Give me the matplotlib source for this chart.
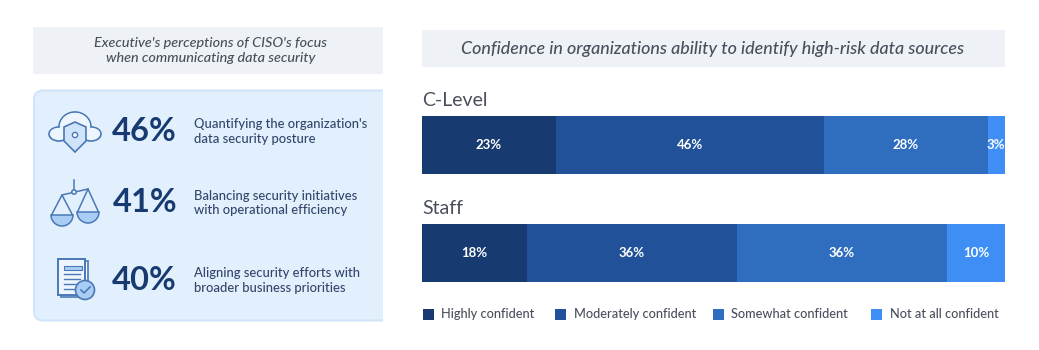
import matplotlib
matplotlib.use("Agg")
import matplotlib.pyplot as plt
from matplotlib.patches import Rectangle, FancyBboxPatch, Circle, Polygon, Wedge, Ellipse

groups = ["C-Level", "Staff"]
levels = ["Highly confident", "Moderately confident", "Somewhat confident", "Not at all confident"]
c_level = [23, 46, 28, 3]
staff = [18, 36, 36, 10]
colors = ["#173B70", "#215299", "#2F6DBF", "#3E8EF5"]
stat_values = ["46%", "41%", "40%"]
stat_labels = ["Quantifying the organization's\ndata security posture",
               "Balancing security initiatives\nwith operational efficiency",
               "Aligning security efforts with\nbroader business priorities"]
left_title = "Executive's perceptions of CISO's focus\nwhen communicating data security"
right_title = "Confidence in organizations ability to identify high-risk data sources"

W, H = 1039, 350
plt.rcParams["font.family"] = ["Lato", "DejaVu Sans"]
fig = plt.figure(figsize=(W / 100, H / 100), dpi=100, facecolor="white")

bg = fig.add_axes([0, 0, 1, 1], zorder=0)
bg.set_xlim(0, W); bg.set_ylim(H, 0); bg.axis("off")

GREY = "#EEF1F6"; TXT = "#4A4F5C"; NAVY = "#173B70"; LINE = "#4A78B5"; FILL = "#A9CDF5"; PANEL = "#E2F0FE"
bg.add_patch(Rectangle((33, 27), 350, 47, fc=GREY, ec="none"))
bg.add_patch(Rectangle((422, 30), 583, 37, fc=GREY, ec="none"))
bg.text(211, 50.5, left_title, ha="center", va="center", fontsize=10.4, style="italic", color=TXT, linespacing=1.3, fontweight="medium")
bg.text(713, 49, right_title, ha="center", va="center", fontsize=12.9, style="italic", color=TXT, fontweight="medium")

panel = FancyBboxPatch((34, 90.5), 370, 230, boxstyle="round,pad=0,rounding_size=9", fc=PANEL, ec="#CFE3FA", lw=1.4)
bg.add_patch(panel)
panel.set_clip_path(Rectangle((0, 0), 383, H, transform=bg.transData))

ys = [131.5, 203, 280.5]
for y, v, l in zip(ys, stat_values, stat_labels):
    bg.text(177, y, v, ha="right", va="center", fontsize=23.5, fontweight="bold", color=NAVY)
    bg.text(194, y, l, ha="left", va="center", fontsize=9.4, color="#33456A", linespacing=1.3, fontweight="medium")

# cloud icon
bumps = [(75, 127, 32, 30), (59, 134, 20, 14), (91, 134, 20, 14), (75, 136, 50, 9)]
for cx, cy, w, h in bumps:
    bg.add_patch(Ellipse((cx, cy), w, h, fc="white", ec=LINE, lw=1.2, zorder=2))
for cx, cy, w, h in bumps:
    bg.add_patch(Ellipse((cx, cy), w - 1.8, h - 1.8, fc="#EDF6FF", ec="none", zorder=3))
bg.add_patch(Polygon([(64, 127), (75, 122), (86, 127), (86, 141), (75, 152), (64, 141)], fc="#CFE3FA", ec=LINE, lw=1.2, zorder=4))
bg.add_patch(Circle((75, 135), 2.6, fc="white", ec=LINE, lw=1, zorder=5))

# scales icon
bg.plot([74, 74], [180, 190], color=LINE, lw=1.1)
bg.plot([62, 88], [195, 189], color=LINE, lw=1.1)
bg.add_patch(Circle((74, 192), 2.2, fc=PANEL, ec=LINE, lw=1.1, zorder=3))
for cx, top, base in [(62, 195, 215), (88, 189, 212)]:
    bg.plot([cx - 10.5, cx, cx + 10.5], [base, top, base], color=LINE, lw=1.1)
    bg.add_patch(Wedge((cx, base), 11, 0, 180, fc=FILL, ec=LINE, lw=1.1))

# document icon
bg.add_patch(Rectangle((61, 261), 27, 36, fc="white", ec=LINE, lw=1.2))
bg.add_patch(Rectangle((58, 259), 27, 36, fc="#EDF6FF", ec=LINE, lw=1.4))
bg.add_patch(Rectangle((64, 266), 18, 3.5, fc=FILL, ec=LINE, lw=0.8))
for ly in [274, 279, 284, 289]:
    bg.plot([64, 80], [ly, ly], color=LINE, lw=1)
bg.add_patch(Circle((85, 290), 9.5, fc=FILL, ec=LINE, lw=1.2, zorder=4))
bg.plot([81, 84, 90], [290, 293, 287], color=LINE, lw=1.2, zorder=5)

# stacked bars
ax = fig.add_axes([422 / W, 1 - 282 / H, 583 / W, 166 / H], zorder=1)
ax.set_xlim(0, 100)
ax.set_ylim(1.2685, -0.2685)
ax.axis("off")
for row, vals in enumerate([c_level, staff]):
    left = 0
    for j, val in enumerate(vals):
        ax.barh(row, val, left=left, height=0.537, color=colors[j], edgecolor="none")
        ax.text(left + val / 2, row, f"{val}%", ha="center", va="center", color="white", fontsize=9.5, fontweight="bold")
        left += val

bg.text(422, 101, groups[0], ha="left", va="center", fontsize=14, color=TXT)
bg.text(422, 209, groups[1], ha="left", va="center", fontsize=14, color=TXT)

# legend
leg_x = [423, 555, 713, 871]
text_x = [441, 574, 731, 890]
for x, tx, lab, col in zip(leg_x, text_x, levels, colors):
    bg.add_patch(Rectangle((x, 309), 11, 11, fc=col, ec="none"))
    bg.text(tx, 314.5, lab, ha="left", va="center", fontsize=9.2, color=TXT, fontweight="medium")

fig.savefig("out.png", dpi=100, facecolor="white")
